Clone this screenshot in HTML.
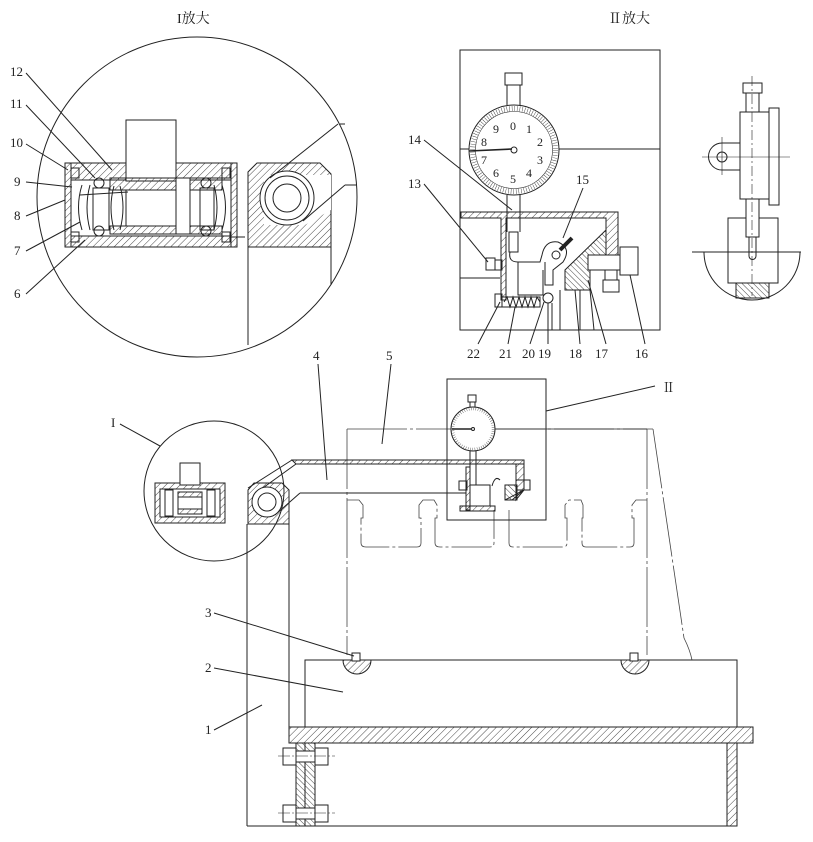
<!DOCTYPE html>
<html><head><meta charset="utf-8"><style>
html,body{margin:0;padding:0;background:#fff;}
svg{display:block;}
text{font-family:"Liberation Serif","Noto Serif CJK SC",serif;fill:#222;}
</style></head><body>
<svg width="813" height="842" viewBox="0 0 813 842" xmlns="http://www.w3.org/2000/svg">
<defs>
<pattern id="h" width="5" height="5" patternUnits="userSpaceOnUse" patternTransform="rotate(45)">
<line x1="0" y1="0" x2="0" y2="5" stroke="#333" stroke-width="0.9"/></pattern>
<pattern id="h2" width="4" height="4" patternUnits="userSpaceOnUse" patternTransform="rotate(-45)">
<line x1="0" y1="0" x2="0" y2="4" stroke="#333" stroke-width="0.9"/></pattern>
</defs>
<g fill="none" stroke="#222" stroke-width="1">

<text x="177" y="23" font-size="14" stroke="none">I放大</text>
<text x="608" y="23" font-size="14" stroke="none">Ⅱ放大</text>

<circle cx="197" cy="197" r="160"/>
<rect x="65" y="163" width="172" height="84" fill="url(#h)"/>
<rect x="71" y="180" width="160" height="56" fill="#fff"/>
<rect x="126" y="120" width="50" height="61" fill="#fff"/>
<rect x="110" y="178" width="112" height="12" fill="url(#h)"/>
<rect x="110" y="226" width="112" height="8" fill="url(#h)"/>
<rect x="126" y="190" width="50" height="36" fill="#fff"/>
<rect x="176" y="178" width="14" height="56" fill="#fff"/>
<line x1="71" y1="163" x2="71" y2="247"/><line x1="231" y1="163" x2="231" y2="247"/>
<rect x="71" y="168" width="8" height="10"/><rect x="71" y="232" width="8" height="10"/>
<rect x="222" y="168" width="8" height="10"/><rect x="222" y="232" width="8" height="10"/>
<path d="M82 185 Q75 207 82 230 M90 185 Q84 207 90 230"/>
<path d="M222 185 Q229 207 222 230 M214 185 Q220 207 214 230"/>
<rect x="93" y="188" width="16" height="42"/><rect x="200" y="188" width="14" height="42"/>
<circle cx="99" cy="183" r="5"/><circle cx="99" cy="231" r="5"/>
<circle cx="206" cy="183" r="5"/><circle cx="206" cy="231" r="5"/>
<path d="M114 186 Q108 207 114 230 M120 186 Q126 207 120 230"/>
<line x1="80" y1="195" x2="128" y2="192"/>
<line x1="231" y1="237" x2="245" y2="237"/>
<path d="M248 172 L257 163 L320 163 L331 174 L331 247 L248 247 Z" fill="url(#h)"/>
<path d="M264 175 L331 175 L331 210 L305 225 L264 225 Z" fill="#fff" stroke="none"/>
<circle cx="287" cy="198" r="27" fill="#fff"/>
<circle cx="287" cy="198" r="22" fill="#fff"/>
<circle cx="287" cy="198" r="14"/>
<line x1="270" y1="178" x2="338" y2="124"/>
<line x1="340" y1="124" x2="345" y2="124"/>
<line x1="303" y1="221" x2="345" y2="185"/>
<line x1="345" y1="185" x2="356" y2="185"/>
<line x1="248" y1="247" x2="248" y2="345"/>
<line x1="331" y1="247" x2="331" y2="285"/>
<g stroke="none" font-size="13">
<text x="10" y="76">12</text><text x="10" y="108">11</text><text x="10" y="147">10</text>
<text x="14" y="186">9</text><text x="14" y="220">8</text><text x="14" y="255">7</text><text x="14" y="298">6</text>
</g>
<line x1="26" y1="73" x2="112" y2="170"/>
<line x1="26" y1="105" x2="95" y2="178"/>
<line x1="26" y1="144" x2="68" y2="170"/>
<line x1="26" y1="182" x2="72" y2="187"/>
<line x1="26" y1="216" x2="65" y2="200"/>
<line x1="26" y1="251" x2="80" y2="222"/>
<line x1="26" y1="294" x2="85" y2="240"/>

<rect x="460" y="50" width="200" height="280"/>
<line x1="460" y1="149" x2="660" y2="149"/>
<line x1="460" y1="278" x2="500" y2="278"/>
<rect x="505" y="73" width="17" height="12"/>
<line x1="507" y1="85" x2="507" y2="105"/><line x1="520" y1="85" x2="520" y2="105"/>
<circle cx="514" cy="150" r="45" fill="#fff"/>
<circle cx="514" cy="150" r="41.5" stroke-width="5" stroke-dasharray="0.4 2.21"/>
<circle cx="514" cy="150" r="38.5" stroke-width="0.6"/>
<line x1="469" y1="151" x2="512" y2="149" stroke-width="1.6"/>
<circle cx="514" cy="150" r="3"/>
<g stroke="none" font-size="12">
<text x="510" y="130">0</text><text x="526" y="133">1</text><text x="537" y="146">2</text><text x="537" y="164">3</text>
<text x="526" y="177">4</text><text x="510" y="183">5</text><text x="493" y="177">6</text><text x="481" y="164">7</text>
<text x="481" y="146">8</text><text x="493" y="133">9</text>
</g>
<line x1="507" y1="195" x2="507" y2="232"/><line x1="520" y1="195" x2="520" y2="232"/>
<rect x="509" y="232" width="9" height="20"/>
<path d="M461 212 L618 212 L618 260 L606 260 L606 218 L506 218 L506 300 L501 300 L501 218 L461 218 Z" fill="url(#h)"/>
<path d="M606 230 L565 270 L565 290 L590 290 L590 270 L606 270 Z" fill="url(#h2)"/>
<rect x="588" y="255" width="32" height="15" fill="#fff"/>
<rect x="620" y="247" width="18" height="28"/>
<rect x="605" y="270" width="12" height="10"/><rect x="603" y="280" width="16" height="12"/>
<rect x="486" y="258" width="9" height="12"/><rect x="495" y="260" width="7" height="10"/>
<path d="M510 252 Q508 262 518 262 L540 262 L542 255 Q545 240 558 242 Q572 248 563 262 L553 270 L553 285 L545 285 L545 262 M518 262 L518 295 L543 295 L543 270"/>
<circle cx="556" cy="255" r="4"/>
<line x1="560" y1="250" x2="572" y2="238" stroke-width="4"/>
<rect x="495" y="294" width="7" height="13"/>
<path d="M502 297 L540 297 L540 307 L502 307 Z"/>
<path d="M504 302 l3 -5 l3 10 l3 -10 l3 10 l3 -10 l3 10 l3 -10 l3 10 l3 -10 l3 10 l3 -10 l3 5"/>
<circle cx="548" cy="298" r="5"/>
<line x1="552" y1="303" x2="552" y2="330"/><line x1="560" y1="290" x2="560" y2="330"/>
<line x1="580" y1="290" x2="580" y2="330"/><line x1="590" y1="290" x2="594" y2="330"/>
<g stroke="none" font-size="13">
<text x="408" y="144">14</text><text x="408" y="188">13</text><text x="576" y="184">15</text>
<text x="467" y="358">22</text><text x="499" y="358">21</text><text x="522" y="358">20</text><text x="538" y="358">19</text>
<text x="569" y="358">18</text><text x="595" y="358">17</text><text x="635" y="358">16</text>
</g>
<line x1="424" y1="140" x2="512" y2="210"/>
<line x1="424" y1="184" x2="488" y2="262"/>
<line x1="583" y1="188" x2="563" y2="238"/>
<line x1="478" y1="344" x2="500" y2="302"/><line x1="508" y1="344" x2="515" y2="307"/>
<line x1="530" y1="344" x2="544" y2="302"/><line x1="548" y1="344" x2="548" y2="303"/>
<line x1="580" y1="344" x2="575" y2="290"/><line x1="606" y1="344" x2="588" y2="280"/>
<line x1="645" y1="344" x2="630" y2="275"/>

<rect x="743" y="83" width="19" height="10"/>
<rect x="746" y="93" width="13" height="19"/>
<rect x="740" y="112" width="29" height="87"/>
<rect x="769" y="108" width="10" height="97"/>
<path d="M740 143 L722 143 A13 13 0 0 0 722 170 L740 170"/>
<circle cx="722" cy="157" r="5"/>
<line x1="702" y1="157" x2="790" y2="157" stroke-width="0.6"/>
<line x1="722" y1="137" x2="722" y2="175" stroke-width="0.6"/>
<rect x="728" y="218" width="50" height="65"/>
<rect x="746" y="199" width="13" height="38" fill="#fff"/>
<path d="M749 237 L749 256 A3.5 3.5 0 0 0 756 256 L756 237"/>
<path d="M704 252 A48 48 0 0 0 800 252"/>
<line x1="692" y1="252" x2="801" y2="252"/>
<line x1="752" y1="76" x2="752" y2="296" stroke-width="0.6" stroke-dasharray="10 3 2 3"/>
<rect x="736" y="283" width="33" height="15" fill="url(#h2)"/>

<g stroke-width="0.8" stroke="#444">
<path d="M347 429 L653 429" stroke-dasharray="60 3 3 3"/>
<path d="M347 429 L347 655" stroke-dasharray="60 3 3 3"/>
<path d="M647 429 L647 655" stroke-dasharray="60 3 3 3"/>
<path d="M653 429 L684 638 Q690 650 692 660" stroke-dasharray="60 3 3 3"/>
<path d="M347 500 L359 500 L363 505 L363 518 L361 518 L361 543 Q361 547 366 547 L417 547 Q421 547 421 543 L421 518 L419 518 L419 505 L423 500 L434 500 L437 505 L437 518 L435 518 L435 543 Q435 547 440 547 L490 547 Q494 547 494 543 L494 510 M509 510 L509 543 Q509 547 513 547 L563 547 Q567 547 567 543 L567 518 L565 518 L565 505 L569 500 L581 500 L583 505 L583 518 L582 518 L582 543 Q582 547 586 547 L630 547 Q634 547 634 543 L634 518 L632 518 L632 505 L636 500 L647 500" stroke-dasharray="40 3 3 3"/>
</g>
<circle cx="214" cy="491" r="70"/>
<rect x="155" y="483" width="70" height="40" fill="url(#h)"/>
<rect x="160" y="489" width="60" height="28" fill="#fff"/>
<rect x="180" y="463" width="20" height="22" fill="#fff"/>
<rect x="165" y="490" width="8" height="26"/><rect x="207" y="490" width="8" height="26"/>
<rect x="178" y="492" width="24" height="22" fill="url(#h)"/>
<rect x="178" y="497" width="24" height="12" fill="#fff"/>
<path d="M292 460 L524 460 L524 464 L296 464 Z" fill="url(#h)"/>
<line x1="292" y1="460" x2="248" y2="488"/>
<line x1="296" y1="464" x2="260" y2="490"/>
<line x1="300" y1="493" x2="466" y2="493"/>
<line x1="300" y1="493" x2="275" y2="515"/>
<path d="M248 490 L254 483 L282 483 L289 490 L289 524 L248 524 Z" fill="url(#h)"/>
<circle cx="267" cy="502" r="15" fill="#fff"/>
<circle cx="267" cy="502" r="9"/>
<line x1="247" y1="524" x2="247" y2="826"/>
<line x1="289" y1="524" x2="289" y2="727"/>
<rect x="447" y="379" width="99" height="141"/>
<line x1="546" y1="411" x2="655" y2="386"/>
<rect x="468" y="395" width="8" height="7"/>
<line x1="470" y1="402" x2="470" y2="407"/><line x1="475" y1="402" x2="475" y2="407"/>
<circle cx="473" cy="429" r="22" fill="#fff"/>
<circle cx="473" cy="429" r="20" stroke-width="2.5" stroke-dasharray="0.35 1.9"/>
<line x1="452" y1="429" x2="471" y2="429" stroke-width="1.4"/>
<circle cx="473" cy="429" r="1.5"/>
<line x1="495" y1="429" x2="647" y2="429" stroke-width="0.8"/>
<line x1="470" y1="451" x2="470" y2="485"/><line x1="476" y1="451" x2="476" y2="485"/>
<path d="M466 464 L524 464 L524 490 L516 500 L516 464" fill="url(#h)"/>
<path d="M524 464 L524 490 L505 500 L512 500 L524 490" fill="url(#h2)"/>
<rect x="505" y="485" width="12" height="15" fill="url(#h2)"/>
<rect x="516" y="480" width="14" height="10"/>
<rect x="459" y="481" width="8" height="9"/>
<rect x="466" y="467" width="4" height="43" fill="url(#h)"/>
<rect x="460" y="506" width="35" height="5" fill="url(#h)"/>
<path d="M470 485 L490 485 L490 506 M492 486 Q495 475 500 480"/>
<rect x="305" y="660" width="432" height="67"/>
<path d="M343 660 A14 14 0 0 0 371 660 Z" fill="url(#h)"/>
<rect x="352" y="653" width="8" height="8" fill="#fff"/>
<path d="M621 660 A14 14 0 0 0 649 660 Z" fill="url(#h)"/>
<rect x="630" y="653" width="8" height="8" fill="#fff"/>
<rect x="289" y="727" width="464" height="16" fill="url(#h)"/>
<rect x="727" y="743" width="10" height="83" fill="url(#h)"/>
<line x1="247" y1="826" x2="737" y2="826"/>
<rect x="296" y="743" width="19" height="83" fill="url(#h2)"/>
<line x1="305" y1="743" x2="305" y2="826"/>
<rect x="283" y="748" width="13" height="17" fill="#fff"/><rect x="315" y="748" width="13" height="17" fill="#fff"/>
<rect x="296" y="751" width="19" height="11" fill="#fff"/>
<rect x="283" y="805" width="13" height="17" fill="#fff"/><rect x="315" y="805" width="13" height="17" fill="#fff"/>
<rect x="296" y="808" width="19" height="11" fill="#fff"/>
<line x1="278" y1="756" x2="335" y2="756" stroke-width="0.6" stroke-dasharray="12 2 2 2"/>
<line x1="278" y1="813" x2="335" y2="813" stroke-width="0.6" stroke-dasharray="12 2 2 2"/>
<g stroke="none" font-size="13">
<text x="313" y="360">4</text><text x="386" y="360">5</text><text x="111" y="427">I</text>
<text x="662" y="392">Ⅱ</text>
<text x="205" y="617">3</text><text x="205" y="672">2</text><text x="205" y="734">1</text>
</g>
<line x1="318" y1="364" x2="327" y2="480"/>
<line x1="391" y1="364" x2="382" y2="444"/>
<line x1="120" y1="424" x2="160" y2="446"/>
<line x1="214" y1="613" x2="354" y2="656"/>
<line x1="214" y1="668" x2="343" y2="692"/>
<line x1="214" y1="730" x2="262" y2="705"/>
</g>
</svg>
</body></html>
